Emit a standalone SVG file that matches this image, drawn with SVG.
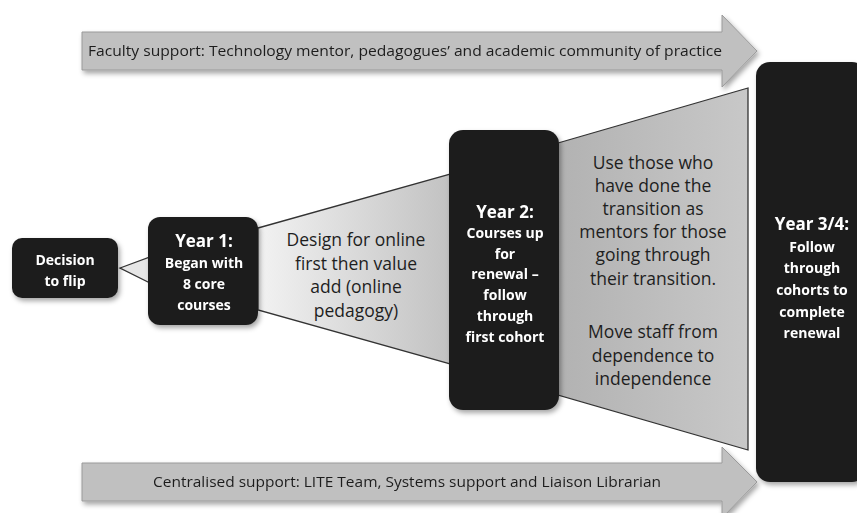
<svg xmlns="http://www.w3.org/2000/svg" width="857" height="513" viewBox="0 0 857 513">
<style>
.box{fill:#1f1f1f;}
.wt{fill:#ffffff;font-family:"Open Sans","Liberation Sans",sans-serif;font-weight:bold;text-anchor:middle;font-size:14px;}
.hd{font-size:17px;}
.dk{fill:#1e1e1e;font-family:"Open Sans","Liberation Sans",sans-serif;text-anchor:middle;}
.f1{font-size:17.5px;}
.f2{font-size:17.5px;}
.arrow{fill:#c0c0c0;stroke:#9a9a9a;stroke-width:1;}
.funnel{stroke:#333333;stroke-width:1.3;}
</style>
<defs>
<filter id="sh" x="-20%" y="-20%" width="140%" height="140%">
<feDropShadow dx="2" dy="3" stdDeviation="2.5" flood-color="#000" flood-opacity="0.35"/>
</filter>
<linearGradient id="g1" x1="0" y1="0" x2="1" y2="0">
<stop offset="0" stop-color="#f2f2f2"/>
<stop offset="1" stop-color="#c2c2c2"/>
</linearGradient>
<linearGradient id="g2" x1="0" y1="0" x2="1" y2="0">
<stop offset="0" stop-color="#b2b2b2"/>
<stop offset="1" stop-color="#c8c8c8"/>
</linearGradient>
</defs>
<rect width="857" height="513" fill="#ffffff"/>
<g id="connectors">
<polygon class="funnel" fill="#e6e6e6" points="120,268 150,257 150,283"/>
<polygon class="funnel" fill="url(#g1)" points="258,228 450,174 450,364 258,310"/>
<polygon class="funnel" fill="url(#g2)" points="558,143 748,88 748,450 558,395"/>
</g>
<g id="faculty-support" filter="url(#sh)">
<polygon class="arrow" points="82,32 722,32 722,15 757,51 722,87 722,70 82,70"/>
<text class="dk" x="405" y="56" font-size="14.5" textLength="634" lengthAdjust="spacingAndGlyphs">Faculty support: Technology mentor, pedagogues’ and academic community of practice</text>
</g>
<g id="centralised-support" filter="url(#sh)">
<polygon class="arrow" points="82,463 722,463 722,447 757,482 722,518 722,501 82,501"/>
<text class="dk" x="407" y="487" font-size="14.5" textLength="508" lengthAdjust="spacingAndGlyphs">Centralised support: LITE Team, Systems support and Liaison Librarian</text>
</g>
<g id="decision" filter="url(#sh)">
<rect class="box" x="12" y="238" width="106" height="60" rx="10"/>
<text class="wt" x="65" y="265" font-size="14.5">Decision</text>
<text class="wt" x="65" y="286" font-size="14.5">to flip</text>
</g>
<g id="year1" filter="url(#sh)">
<rect class="box" x="148" y="217" width="110" height="108" rx="12"/>
<text class="wt hd" x="204" y="247">Year 1:</text>
<text class="wt" x="204" y="268">Began with</text>
<text class="wt" x="204" y="289">8 core</text>
<text class="wt" x="204" y="310">courses</text>
</g>
<g id="design-text">
<text class="dk f1" x="356" y="246">Design for online</text>
<text class="dk f1" x="356" y="269.5">first then value</text>
<text class="dk f1" x="356" y="293">add (online</text>
<text class="dk f1" x="356" y="316.5">pedagogy)</text>
</g>
<g id="year2" filter="url(#sh)">
<rect class="box" x="449" y="130" width="110" height="280" rx="14"/>
<text class="wt hd" x="505" y="218">Year 2:</text>
<text class="wt" x="505" y="238">Courses up</text>
<text class="wt" x="505" y="259">for</text>
<text class="wt" x="505" y="279">renewal –</text>
<text class="wt" x="505" y="300">follow</text>
<text class="wt" x="505" y="321">through</text>
<text class="wt" x="505" y="342">first cohort</text>
</g>
<g id="mentor-text">
<text class="dk f2" x="653" y="169">Use those who</text>
<text class="dk f2" x="653" y="192">have done the</text>
<text class="dk f2" x="653" y="215">transition as</text>
<text class="dk f2" x="653" y="238">mentors for those</text>
<text class="dk f2" x="653" y="261">going through</text>
<text class="dk f2" x="653" y="285">their transition.</text>
<text class="dk f2" x="653" y="338">Move staff from</text>
<text class="dk f2" x="653" y="362">dependence to</text>
<text class="dk f2" x="653" y="385">independence</text>
</g>
<g id="year34" filter="url(#sh)">
<rect class="box" x="756" y="62" width="110" height="420" rx="14"/>
<text class="wt hd" x="812" y="230">Year 3/4:</text>
<text class="wt" x="812" y="251.5">Follow</text>
<text class="wt" x="812" y="273">through</text>
<text class="wt" x="812" y="295">cohorts to</text>
<text class="wt" x="812" y="316.5">complete</text>
<text class="wt" x="812" y="338">renewal</text>
</g>
</svg>
